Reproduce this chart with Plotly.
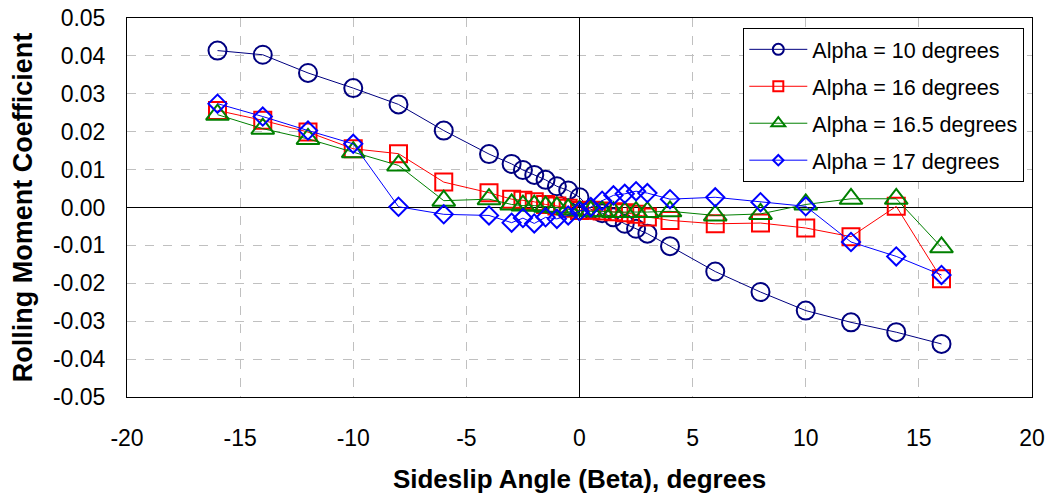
import plotly.graph_objects as go

# Sideslip angles (degrees) at which the rolling moment was measured
beta = [-16, -14, -12, -10, -8, -6, -4, -3, -2.5, -2, -1.5, -1, -0.5, 0,
        0.5, 1, 1.5, 2, 2.5, 3, 4, 6, 8, 10, 12, 14, 16]

# Rolling moment coefficient for each angle of attack
cl_alpha_10 = [0.0414, 0.0403, 0.0355, 0.0315, 0.0272, 0.0203, 0.0141, 0.0115, 0.0099,
               0.0086, 0.0073, 0.0056, 0.0045, 0.0027,
               -0.0005, -0.0015, -0.0026, -0.0043, -0.0056, -0.0069, -0.0102,
               -0.0169, -0.0223, -0.0272, -0.0303, -0.0329, -0.0360]
cl_alpha_16 = [0.0256, 0.0230, 0.0199, 0.0155, 0.0142, 0.0067, 0.0039, 0.0022, 0.0019,
               0.0015, 0.0008, 0.0004, -0.0002, -0.0008,
               -0.0007, -0.0009, -0.0011, -0.0014, -0.0018, -0.0025, -0.0034,
               -0.0043, -0.0041, -0.0054, -0.0077, 0.0003, -0.0188]
cl_alpha_16_5 = [0.0245, 0.0208, 0.0181, 0.0146, 0.0111, 0.0018, 0.0022, 0.0008, 0.0005,
                 0.0005, 0.0002, 0.0000, -0.0005, -0.0008,
                 -0.0010, -0.0010, -0.0012, -0.0012, -0.0012, -0.0012, -0.0010,
                 -0.0021, -0.0017, 0.0008, 0.0023, 0.0023, -0.0105]
cl_alpha_17 = [0.0274, 0.0240, 0.0203, 0.0168, 0.0002, -0.0018, -0.0021, -0.0040, -0.0028,
               -0.0042, -0.0026, -0.0030, -0.0021, -0.0010,
               0.0001, 0.0018, 0.0032, 0.0036, 0.0043, 0.0038, 0.0022,
               0.0027, 0.0014, 0.0003, -0.0091, -0.0129, -0.0178]

# Axis ticks and their labels (plain hyphen as the minus sign)
x_ticks = [-20, -15, -10, -5, 0, 5, 10, 15, 20]
x_tick_labels = ["-20", "-15", "-10", "-5", "0", "5", "10", "15", "20"]
y_ticks = [0.05, 0.04, 0.03, 0.02, 0.01, 0.0, -0.01, -0.02, -0.03, -0.04, -0.05]
y_tick_labels = ["0.05", "0.04", "0.03", "0.02", "0.01", "0.00",
                 "-0.01", "-0.02", "-0.03", "-0.04", "-0.05"]

series = [
    ("Alpha = 10 degrees", cl_alpha_10, "#000080", "circle-open", 18, 11),
    ("Alpha = 16 degrees", cl_alpha_16, "#FF0000", "square-open", 17, 10),
    ("Alpha = 16.5 degrees", cl_alpha_16_5, "#008000", "triangle-up-open", 20, 12),
    ("Alpha = 17 degrees", cl_alpha_17, "#0000FF", "diamond-open", 14, 8),
]

FONT = "Arial, Liberation Sans, sans-serif"

fig = go.Figure()
for i, (name, values, color, symbol, size, legend_size) in enumerate(series):
    fig.add_trace(go.Scatter(
        x=beta, y=values, mode="lines+markers", name=name,
        line=dict(color=color, width=1),
        marker=dict(symbol=symbol, size=size, color=color, line=dict(color=color, width=2)),
        showlegend=False,
    ))
    # legend entry with a smaller symbol
    fig.add_trace(go.Scatter(
        x=[None], y=[None], mode="lines+markers", name=name,
        line=dict(color=color, width=1),
        marker=dict(symbol=symbol, size=legend_size, color=color, line=dict(color=color, width=2)),
        legendgroup=f"g{i}", showlegend=True,
    ))

axis_common = dict(
    showline=True, mirror=True, linecolor="black", linewidth=1,
    showgrid=True, gridcolor="#c0c0c0", gridwidth=1, griddash="dash",
    zeroline=True, zerolinecolor="black", zerolinewidth=1,
    ticks="", tickfont=dict(family=FONT, size=23, color="black"),
    automargin=False, tickmode="array",
)

fig.update_layout(
    width=1052, height=494,
    margin=dict(l=127, r=20, t=18, b=97),
    paper_bgcolor="white", plot_bgcolor="white",
    font=dict(family=FONT, color="black"),
    xaxis=dict(range=[-20, 20], tickvals=x_ticks, ticktext=x_tick_labels,
               ticklabelstandoff=20,
               title=dict(text="<b>Sideslip Angle (Beta), degrees</b>",
                          font=dict(family=FONT, size=26, color="black"), standoff=23),
               **axis_common),
    yaxis=dict(range=[-0.05, 0.05], tickvals=y_ticks, ticktext=y_tick_labels,
               ticklabelstandoff=16,
               title=dict(text="<b>Rolling Moment Coefficient</b>",
                          font=dict(family=FONT, size=27, color="black"), standoff=12),
               **axis_common),
    legend=dict(x=0.681, y=0.974, xanchor="left", yanchor="top",
                bgcolor="white", bordercolor="black", borderwidth=1,
                font=dict(family=FONT, size=21.5, color="black"),
                itemwidth=58, tracegroupgap=6),
)

fig.write_html("out.html")
